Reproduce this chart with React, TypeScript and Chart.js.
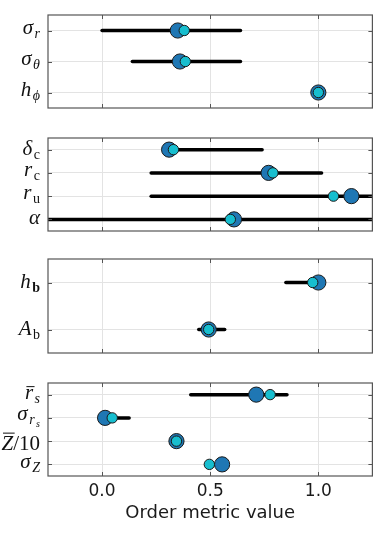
import React, { useEffect, useRef } from "react";
import { Chart, registerables } from "chart.js";
Chart.register(...registerables);

type Seg = { t: string; s?: "i" | "r" | "b"; l?: number; bar?: boolean };

const X_MIN = -0.25;
const X_MAX = 1.25;
const X_TICKS = [0, 0.5, 1.0];
const X_TITLE = "Order metric value";

// Panel 1
const labels1: Seg[][] = [
  [{ t: "σ" }, { t: "r", l: 1 }],
  [{ t: "σ" }, { t: "θ", l: 1 }],
  [{ t: "h" }, { t: "ϕ", l: 1 }],
];
const lo1 = [0.0, 0.14, null];
const hi1 = [0.64, 0.64, null];
const dark1 = [0.35, 0.36, 1.0];
const cyan1 = [0.38, 0.385, 1.0];

// Panel 2
const labels2: Seg[][] = [
  [{ t: "δ" }, { t: "c", l: 1, s: "r" }],
  [{ t: "r" }, { t: "c", l: 1, s: "r" }],
  [{ t: "r" }, { t: "u", l: 1, s: "r" }],
  [{ t: "α" }],
];
const lo2 = [0.33, 0.227, 0.227, -0.3];
const hi2 = [0.74, 1.015, 1.3, 1.3];
const dark2 = [0.31, 0.77, 1.153, 0.61];
const cyan2 = [0.33, 0.79, 1.07, 0.593];

// Panel 3
const labels3: Seg[][] = [
  [{ t: "h" }, { t: "b", l: 1, s: "b" }],
  [{ t: "A" }, { t: "b", l: 1, s: "r" }],
];
const lo3 = [0.85, 0.447];
const hi3 = [0.99, 0.567];
const dark3 = [1.0, 0.493];
const cyan3 = [0.974, 0.493];

// Panel 4
const labels4: Seg[][] = [
  [{ t: "r", bar: true }, { t: "s", l: 1 }],
  [{ t: "σ" }, { t: "r", l: 1 }, { t: "s", l: 2 }],
  [{ t: "Z", bar: true }, { t: "/10", s: "r" }],
  [{ t: "σ" }, { t: "Z", l: 1 }],
];
const lo4 = [0.41, 0.014, null, null];
const hi4 = [0.855, 0.125, null, null];
const dark4 = [0.713, 0.014, 0.344, 0.555];
const cyan4 = [0.777, 0.047, 0.344, 0.496];

const DARK = "#1f77b4";
const CYAN = "#17becf";
const EDGE = "#1a1a1a";
const GRID = "#e3e3e3";
const FRAME = "#555555";
const SERIF = "'Liberation Serif', 'DejaVu Serif', serif";
const SIZES = [21, 14, 10];
const DROPS = [0, 4, 7];

function segFont(seg: Seg) {
  const size = SIZES[seg.l ?? 0];
  const style = seg.s === "r" ? "" : seg.s === "b" ? "bold " : "italic ";
  return `${style}${size}px ${SERIF}`;
}

function drawRich(ctx: CanvasRenderingContext2D, segs: Seg[], right: number, cy: number) {
  let w = 0;
  let top = Infinity;
  let bot = -Infinity;
  const items = segs.map((seg) => {
    ctx.font = segFont(seg);
    const m = ctx.measureText(seg.t);
    const lvl = seg.l ?? 0;
    const drop = DROPS[lvl];
    const gap = lvl > 0 ? 1.5 : 0;
    const it = { seg, x: w + gap, w: m.width, drop, asc: m.actualBoundingBoxAscent };
    w += gap + m.width;
    let t = drop - m.actualBoundingBoxAscent;
    if (seg.bar) t -= 3;
    top = Math.min(top, t);
    bot = Math.max(bot, drop + m.actualBoundingBoxDescent);
    return it;
  });
  const base = cy - (top + bot) / 2;
  const x0 = right - w;
  ctx.fillStyle = "#111";
  ctx.textBaseline = "alphabetic";
  ctx.textAlign = "left";
  items.forEach((it) => {
    ctx.font = segFont(it.seg);
    ctx.fillText(it.seg.t, x0 + it.x, base + it.drop);
    if (it.seg.bar) {
      ctx.fillRect(x0 + it.x + 1.5, base + it.drop - it.asc - 3, it.w, 1);
    }
  });
}

type Cfg = {
  labels: Seg[][];
  lo: (number | null)[];
  hi: (number | null)[];
  dark: number[];
  cyan: number[];
  chartTop: number;
  chartBottom: number;
  bottom?: boolean;
};

const panels: Cfg[] = [
  { labels: labels1, lo: lo1, hi: hi1, dark: dark1, cyan: cyan1, chartTop: 15, chartBottom: 108 },
  { labels: labels2, lo: lo2, hi: hi2, dark: dark2, cyan: cyan2, chartTop: 138, chartBottom: 231 },
  { labels: labels3, lo: lo3, hi: hi3, dark: dark3, cyan: cyan3, chartTop: 259, chartBottom: 353 },
  { labels: labels4, lo: lo4, hi: hi4, dark: dark4, cyan: cyan4, chartTop: 383, chartBottom: 476, bottom: true },
];

function Panel({ cfg }: { cfg: Cfg }) {
  const ref = useRef<HTMLCanvasElement>(null);
  const canvasTop = cfg.chartTop - 10;
  const height = cfg.bottom ? 533 - canvasTop : cfg.chartBottom - cfg.chartTop + 20;
  const xAxisH = cfg.bottom ? 533 - cfg.chartBottom : 0;

  useEffect(() => {
    const n = cfg.labels.length;
    const rows = cfg.labels.map((_, i) => i);
    const datasets: any[] = [];
    rows.forEach((i) => {
      if (cfg.lo[i] != null && cfg.hi[i] != null) {
        datasets.push({
          data: [
            { x: cfg.lo[i], y: i },
            { x: cfg.hi[i], y: i },
          ],
          showLine: true,
          borderColor: "#000",
          borderWidth: 3.5,
          borderCapStyle: "round",
          pointRadius: 0,
          clip: 0,
          order: 3,
        });
      }
    });
    datasets.push({
      data: rows.map((i) => ({ x: cfg.dark[i], y: i })),
      pointRadius: 7.6,
      pointBackgroundColor: DARK,
      pointBorderColor: EDGE,
      pointBorderWidth: 1,
      showLine: false,
      clip: false,
      order: 2,
    });
    datasets.push({
      data: rows.map((i) => ({ x: cfg.cyan[i], y: i })),
      pointRadius: 5.2,
      pointBackgroundColor: CYAN,
      pointBorderColor: EDGE,
      pointBorderWidth: 1,
      showLine: false,
      clip: false,
      order: 1,
    });

    const decor = {
      id: "decor",
      afterDraw(chart: any) {
        const ctx = chart.ctx as CanvasRenderingContext2D;
        const a = chart.chartArea;
        const xs = chart.scales.x;
        const ys = chart.scales.y;
        ctx.save();
        ctx.strokeStyle = FRAME;
        ctx.lineWidth = 1.2;
        ctx.strokeRect(a.left, a.top, a.right - a.left, a.bottom - a.top);
        ctx.beginPath();
        X_TICKS.forEach((v) => {
          const px = Math.round(xs.getPixelForValue(v)) + 0.5;
          ctx.moveTo(px, a.top);
          ctx.lineTo(px, a.top + 4);
          ctx.moveTo(px, a.bottom);
          ctx.lineTo(px, a.bottom - 4);
        });
        rows.forEach((i) => {
          const py = Math.round(ys.getPixelForValue(i)) + 0.5;
          ctx.moveTo(a.left, py);
          ctx.lineTo(a.left + 4, py);
          ctx.moveTo(a.right, py);
          ctx.lineTo(a.right - 4, py);
        });
        ctx.lineWidth = 1;
        ctx.stroke();
        rows.forEach((i) => {
          drawRich(ctx, cfg.labels[i], 40, ys.getPixelForValue(i));
        });
        ctx.restore();
      },
    };

    const chart = new Chart(ref.current as HTMLCanvasElement, {
      type: "scatter",
      data: { datasets },
      options: {
        animation: false,
        responsive: false,
        devicePixelRatio: 1,
        events: [],
        layout: { padding: { top: 10, bottom: cfg.bottom ? 0 : 10, left: 0, right: 6 } },
        plugins: { legend: { display: false }, tooltip: { enabled: false } },
        scales: {
          x: {
            type: "linear",
            min: X_MIN,
            max: X_MAX,
            afterBuildTicks: (s: any) => {
              s.ticks = X_TICKS.map((v) => ({ value: v }));
            },
            afterFit: (s: any) => {
              s.height = xAxisH;
            },
            grid: { color: GRID, lineWidth: 1, drawTicks: false },
            border: { display: false },
            ticks: {
              display: !!cfg.bottom,
              color: "#1a1a1a",
              padding: 5,
              maxRotation: 0,
              autoSkip: false,
              font: { family: "'DejaVu Sans', sans-serif", size: 17 },
              callback: (v: any) => Number(v).toFixed(1),
            },
            title: {
              display: !!cfg.bottom,
              text: X_TITLE,
              color: "#1a1a1a",
              font: { family: "'DejaVu Sans', sans-serif", size: 18 },
              padding: { top: 0, bottom: 9 },
            },
          },
          y: {
            type: "linear",
            min: -0.5,
            max: n - 0.5,
            reverse: true,
            afterBuildTicks: (s: any) => {
              s.ticks = rows.map((v) => ({ value: v }));
            },
            afterFit: (s: any) => {
              s.width = 48;
            },
            grid: { color: GRID, lineWidth: 1, drawTicks: false },
            border: { display: false },
            ticks: { display: false },
          },
        },
      } as any,
      plugins: [decor],
    });
    return () => chart.destroy();
  }, []);

  return (
    <canvas
      ref={ref}
      width={381}
      height={height}
      style={{ position: "absolute", left: 0, top: canvasTop, width: 381, height }}
    />
  );
}

export default function App() {
  return (
    <div style={{ position: "absolute", left: 0, top: 0, width: 381, height: 533, background: "#fff" }}>
      {panels.map((p, i) => (
        <Panel key={i} cfg={p} />
      ))}
    </div>
  );
}
